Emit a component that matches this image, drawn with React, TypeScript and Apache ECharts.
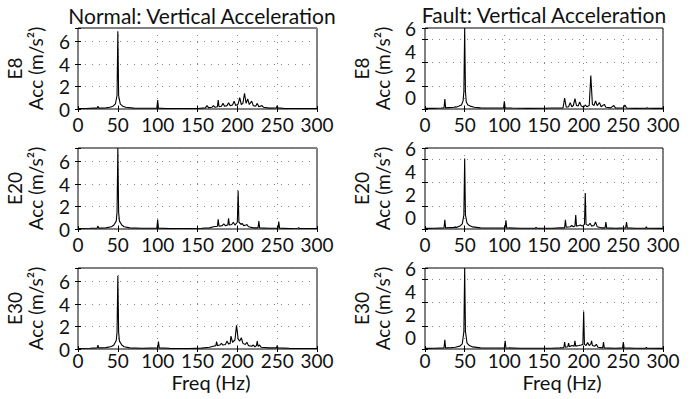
import React, { useEffect, useRef } from "react";
import * as echarts from "echarts";

const colTitles = ["Normal: Vertical Acceleration", "Fault: Vertical Acceleration"];
const rowNames = ["E8", "E20", "E30"];
const xAxisTitle = "Freq (Hz)";
const xTickStep = 50;
const xMax = 300;
const normalYMax = 7.2;
const faultYMax = 7;
const faultLabelMin = -1;
const faultLabelMax = 6;

// [freq (Hz), acceleration amplitude]
const normalE8: number[][] = [
  [0, 0.05], [10, 0.05], [20, 0.08], [24, 0.08], [25, 0.25], [26, 0.08], [35, 0.1], [40, 0.15], [44, 0.25],
  [47, 0.45], [49, 1.2], [50, 6.9], [51, 1.2], [53, 0.45], [56, 0.25], [60, 0.15], [70, 0.08], [90, 0.06],
  [99, 0.08], [100, 0.8], [101, 0.08], [110, 0.05], [130, 0.04], [150, 0.05], [160, 0.1], [162, 0.3], [164, 0.1],
  [168, 0.15], [170, 0.3], [172, 0.15], [175, 0.2], [176, 0.8], [177, 0.2], [180, 0.25], [182, 0.5], [184, 0.25],
  [187, 0.3], [189, 0.55], [191, 0.3], [194, 0.35], [196, 0.7], [198, 0.3], [201, 0.45], [203, 1.0], [205, 0.4],
  [207, 0.5], [209, 1.4], [211, 0.5], [213, 0.9], [215, 0.4], [218, 0.7], [220, 0.3], [223, 0.25], [225, 0.5],
  [227, 0.2], [231, 0.3], [233, 0.15], [240, 0.08], [249, 0.1], [250, 0.3], [251, 0.1], [260, 0.05], [280, 0.04],
  [300, 0.04],
];
const faultE8: number[][] = [
  [0, 0.05], [10, 0.05], [20, 0.08], [24, 0.1], [25, 0.87], [26, 0.1], [30, 0.12], [37, 0.15], [38, 0.2],
  [39, 0.15], [43, 0.25], [46, 0.35], [48, 0.7], [49, 1.5], [50, 7], [51, 1.5], [52, 0.6], [54, 0.35], [57, 0.25],
  [62, 0.15], [70, 0.1], [85, 0.08], [99, 0.1], [100, 0.66], [101, 0.1], [110, 0.08], [130, 0.05], [150, 0.06],
  [160, 0.08], [174, 0.1], [176, 0.95], [178, 0.15], [181, 0.2], [183, 0.55], [185, 0.2], [187, 0.3], [189, 0.9],
  [191, 0.3], [193, 0.25], [195, 0.6], [197, 0.25], [200, 0.15], [202, 0.35], [204, 0.2], [207, 0.3], [209, 2.9],
  [211, 0.4], [213, 0.3], [215, 0.7], [217, 0.3], [220, 0.55], [222, 0.2], [226, 0.4], [228, 0.15], [234, 0.1],
  [238, 0.3], [240, 0.1], [250, 0.08], [252, 0.35], [254, 0.08], [265, 0.05], [279, 0.06], [280, 0.12],
  [281, 0.06], [290, 0.05], [300, 0.05],
];
const normalE20: number[][] = [
  [0, 0.05], [15, 0.06], [24, 0.08], [25, 0.26], [26, 0.08], [35, 0.1], [42, 0.2], [45, 0.35], [48, 0.7],
  [49, 1.5], [50, 7.2], [51, 1.5], [52, 0.7], [55, 0.35], [58, 0.2], [65, 0.1], [80, 0.06], [99, 0.08],
  [100, 0.85], [101, 0.08], [115, 0.05], [140, 0.04], [155, 0.06], [165, 0.1], [170, 0.2], [175, 0.25],
  [176, 0.85], [177, 0.25], [181, 0.3], [183, 0.45], [185, 0.3], [188, 0.35], [189, 0.95], [190, 0.35],
  [193, 0.4], [195, 0.6], [197, 0.35], [200, 0.6], [201, 3.4], [202, 0.6], [205, 0.4], [206, 0.5], [208, 0.3],
  [211, 0.35], [212, 0.4], [214, 0.2], [220, 0.1], [226, 0.1], [227, 0.7], [228, 0.1], [240, 0.06], [251, 0.08],
  [252, 0.65], [253, 0.08], [265, 0.05], [276, 0.06], [277, 0.12], [278, 0.05], [300, 0.04],
];
const faultE20: number[][] = [
  [0, 0.05], [12, 0.06], [24, 0.1], [25, 0.8], [26, 0.1], [33, 0.12], [37, 0.12], [38, 0.2], [39, 0.12],
  [44, 0.25], [47, 0.45], [49, 1.2], [50, 6.1], [51, 1.2], [53, 0.5], [56, 0.3], [60, 0.18], [70, 0.1],
  [85, 0.08], [101, 0.1], [102, 0.75], [103, 0.1], [120, 0.07], [139, 0.07], [140, 0.15], [141, 0.07],
  [160, 0.06], [170, 0.1], [176, 0.1], [177, 0.8], [178, 0.15], [183, 0.2], [185, 0.3], [187, 0.2], [189, 0.25],
  [190, 1.2], [191, 0.25], [194, 0.3], [196, 0.35], [198, 0.25], [201, 0.4], [202, 3.1], [203, 0.4], [206, 0.3],
  [208, 0.5], [210, 0.25], [213, 0.3], [215, 0.6], [217, 0.2], [222, 0.1], [227, 0.1], [228, 0.6], [229, 0.1],
  [240, 0.07], [253, 0.1], [254, 0.6], [255, 0.1], [265, 0.06], [278, 0.06], [279, 0.2], [280, 0.06], [300, 0.05],
];
const normalE30: number[][] = [
  [0, 0.05], [15, 0.07], [24, 0.1], [25, 0.35], [26, 0.1], [35, 0.12], [42, 0.22], [45, 0.35], [48, 0.75],
  [49, 1.5], [50, 6.5], [51, 1.5], [52, 0.7], [55, 0.35], [58, 0.2], [65, 0.1], [80, 0.07], [100, 0.1],
  [101, 0.65], [102, 0.1], [115, 0.06], [140, 0.05], [155, 0.08], [165, 0.15], [170, 0.25], [173, 0.3],
  [174, 0.65], [175, 0.3], [178, 0.35], [180, 0.5], [182, 0.35], [185, 0.4], [187, 0.7], [189, 0.45], [191, 0.5],
  [192, 1.15], [194, 0.6], [197, 0.8], [199, 2.1], [201, 0.9], [203, 0.7], [205, 1.0], [207, 0.5], [210, 0.4],
  [212, 0.6], [214, 0.3], [218, 0.25], [220, 0.35], [222, 0.2], [224, 0.3], [225, 0.7], [226, 0.25], [228, 0.35],
  [230, 0.15], [240, 0.1], [249, 0.1], [250, 0.3], [251, 0.1], [265, 0.06], [280, 0.05], [300, 0.05],
];
const faultE30: number[][] = [
  [0, 0.05], [12, 0.06], [24, 0.1], [25, 0.8], [26, 0.1], [33, 0.12], [38, 0.15], [44, 0.25], [47, 0.45],
  [49, 1.5], [50, 7], [51, 1.5], [53, 0.5], [56, 0.3], [60, 0.18], [70, 0.1], [85, 0.08], [100, 0.1], [101, 0.7],
  [102, 0.1], [120, 0.06], [140, 0.07], [160, 0.07], [170, 0.1], [175, 0.12], [176, 0.6], [177, 0.15], [180, 0.2],
  [181, 0.5], [182, 0.2], [185, 0.3], [188, 0.25], [189, 0.7], [190, 0.25], [194, 0.3], [197, 0.35], [199, 0.4],
  [200, 3.25], [201, 0.4], [203, 0.3], [205, 0.55], [207, 0.3], [209, 0.45], [210, 0.7], [211, 0.3], [214, 0.25],
  [216, 0.4], [218, 0.15], [224, 0.1], [225, 0.6], [226, 0.1], [240, 0.07], [249, 0.1], [250, 0.6], [251, 0.1],
  [265, 0.06], [278, 0.06], [279, 0.15], [280, 0.06], [300, 0.05],
];

const panels = [
  [normalE8, faultE8],
  [normalE20, faultE20],
  [normalE30, faultE30],
];

const FONT = "Lato";
const TICK_SIZE = 19;
const TEXT = "#111";

export default function App() {
  const ref = useRef<HTMLDivElement>(null);
  useEffect(() => {
    if (!ref.current) return;
    const chart = echarts.init(ref.current, undefined, { renderer: "svg" });
    const colLeft = [78, 425];
    const colWidth = [239, 238];
    const rowTop = [28, 148, 268];
    const rowHeight = 81;
    const xLabelMargin = [6, 6, 2];
    const grids: any[] = [];
    const xAxes: any[] = [];
    const yAxes: any[] = [];
    const series: any[] = [];
    const dotted = { type: [1, 6], color: "#888", width: 1 };
    for (let r = 0; r < 3; r++) {
      for (let c = 0; c < 2; c++) {
        const gi = grids.length;
        grids.push({
          left: colLeft[c], top: rowTop[r], width: colWidth[c], height: rowHeight,
          show: true, borderColor: "#000", borderWidth: 1, backgroundColor: "transparent",
        });
        const xi = xAxes.length;
        xAxes.push({
          type: "value", gridIndex: gi, min: 0, max: xMax, interval: xTickStep,
          axisLine: { show: false },
          axisTick: { show: true, inside: true, length: 3, lineStyle: { color: "#000" } },
          axisLabel: { fontFamily: FONT, fontSize: TICK_SIZE, lineHeight: 18, color: TEXT, margin: xLabelMargin[r] },
          splitLine: { show: true, lineStyle: dotted },
        });
        xAxes.push({
          type: "value", gridIndex: gi, position: "top", min: 0, max: xMax, interval: xTickStep,
          axisLine: { show: false },
          axisTick: { show: true, inside: true, length: 3, lineStyle: { color: "#000" } },
          axisLabel: { show: false }, splitLine: { show: false },
        });
        const yi = yAxes.length;
        const isFault = c === 1;
        yAxes.push({
          type: "value", gridIndex: gi, min: 0, max: isFault ? faultYMax : normalYMax, interval: 2,
          name: rowNames[r] + "\nAcc (m/s\u00B2)", nameLocation: "middle", nameRotate: 90, nameGap: 32,
          nameTextStyle: { fontFamily: FONT, fontSize: TICK_SIZE, color: TEXT, lineHeight: 21 },
          axisLine: { show: false },
          axisTick: { show: true, inside: true, length: 3, lineStyle: { color: "#000" } },
          axisLabel: {
            show: !isFault, fontFamily: FONT, fontSize: TICK_SIZE, color: TEXT, margin: 8,
            formatter: (v: number) => (v % 2 === 0 ? String(v) : ""),
          },
          splitLine: { show: true, lineStyle: dotted },
        });
        yAxes.push({
          type: "value", gridIndex: gi, position: "right", min: 0, max: isFault ? faultYMax : normalYMax, interval: 2,
          axisLine: { show: false },
          axisTick: { show: true, inside: true, length: 3, lineStyle: { color: "#000" } },
          axisLabel: { show: false }, splitLine: { show: false },
        });
        if (isFault) {
          yAxes.push({
            type: "value", gridIndex: gi, position: "left", offset: 0, min: faultLabelMin, max: faultLabelMax, interval: 1,
            axisLine: { show: false }, axisTick: { show: false }, splitLine: { show: false },
            axisLabel: {
              fontFamily: FONT, fontSize: TICK_SIZE, color: TEXT, margin: 9,
              formatter: (v: number) => (Math.abs(v % 2) === 0 ? String(v) : ""),
            },
          });
        }
        series.push({
          type: "line", xAxisIndex: xi, yAxisIndex: yi, data: panels[r][c],
          showSymbol: false, symbol: "none", clip: true,
          lineStyle: { color: "#000", width: 1.1 }, silent: true,
        });
      }
    }
    const titleFont = `21px ${FONT}`;
    const graphic: any[] = [
      { type: "text", x: 202, y: 15, style: { text: colTitles[0], align: "center", verticalAlign: "middle", font: titleFont, fill: TEXT } },
      { type: "text", x: 544, y: 14, style: { text: colTitles[1], align: "center", verticalAlign: "middle", font: titleFont, fill: TEXT } },
      { type: "text", x: 211, y: 382, style: { text: xAxisTitle, align: "center", verticalAlign: "middle", font: `20px ${FONT}`, fill: TEXT } },
      { type: "text", x: 562, y: 382, style: { text: xAxisTitle, align: "center", verticalAlign: "middle", font: `20px ${FONT}`, fill: TEXT } },
    ];
    chart.setOption({
      animation: false,
      backgroundColor: "#fff",
      grid: grids,
      xAxis: xAxes,
      yAxis: yAxes,
      series,
      graphic,
    });
    return () => chart.dispose();
  }, []);
  return <div ref={ref} style={{ position: "absolute", left: 0, top: 0, width: 691, height: 399 }} />;
}
